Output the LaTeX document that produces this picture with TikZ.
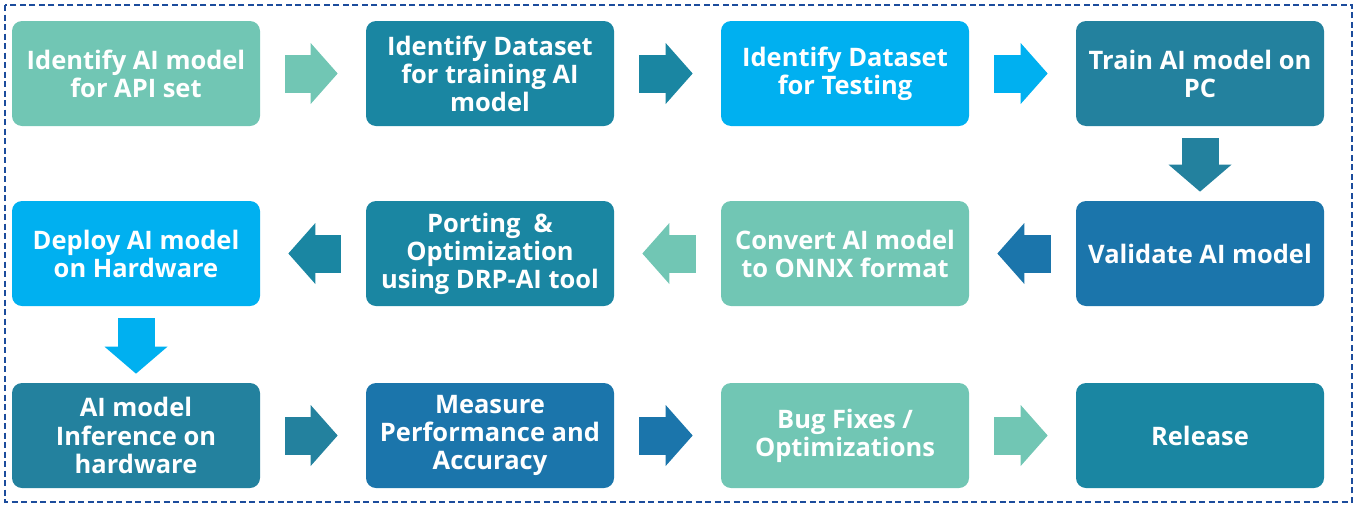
\documentclass[tikz,border=0pt]{standalone}
\usepackage{fontspec}
\setmainfont{Open Sans}
\usetikzlibrary{arrows.meta}
\definecolor{mint}{HTML}{71C6B4}
\definecolor{tealA}{HTML}{1A86A2}
\definecolor{sky}{HTML}{00B0F0}
\definecolor{tealB}{HTML}{23819E}
\definecolor{ocean}{HTML}{1B75AB}
\definecolor{frameblue}{HTML}{1C4C9C}

\begin{document}
\begin{tikzpicture}[
  stage/.style={rounded corners=0.2cm, minimum width=4.96cm, minimum height=2.1cm,
    inner sep=0pt, align=center, text=white, font=\fontsize{14.5}{16}\selectfont\bfseries},
  flow/.style={line width=0.76cm, shorten <=0.5cm, shorten >=0.56cm,
    -{Triangle[length=0.54cm, width=1.22cm, line width=0pt]}},
  drop/.style={line width=0.74cm, shorten <=0.24cm, shorten >=0.18cm,
    -{Triangle[length=0.54cm, width=1.26cm, line width=0pt]}}
]
  \useasboundingbox (0,0) rectangle (27.2,-10.1);
  \draw[frameblue, line width=1.4pt, dash pattern=on 0.12cm off 0.07cm] (0.1,-0.1) rectangle (27.04,-10.04);

  % Row 1
  \node[stage, fill=mint] (idmodel) at (2.72, -1.47) {Identify AI model\\for API set};
  \node[stage, fill=tealA] (idtrain) at (9.8, -1.47) {Identify Dataset\\for training AI\\model};
  \node[stage, fill=sky] (idtest) at (16.9, -1.47) {Identify Dataset\\for Testing};
  \node[stage, fill=tealB] (train) at (24.0, -1.47) {Train AI model on\\PC};

  % Row 2
  \node[stage, fill=sky] (deploy) at (2.72, -5.07) {Deploy AI model\\on Hardware};
  \node[stage, fill=tealA] (porting) at (9.8, -5.07) {Porting\ \ \&\\Optimization\\using DRP-AI tool};
  \node[stage, fill=mint] (convert) at (16.9, -5.07) {Convert AI model\\to ONNX format};
  \node[stage, fill=ocean] (validate) at (24.0, -5.07) {Validate AI model};

  % Row 3
  \node[stage, fill=tealB] (infer) at (2.72, -8.71) {AI model\\Inference on\\hardware};
  \node[stage, fill=ocean] (measure) at (9.8, -8.71) {Measure\\Performance and\\Accuracy};
  \node[stage, fill=mint] (bugfix) at (16.9, -8.71) {Bug Fixes /\\Optimizations};
  \node[stage, fill=tealA] (release) at (24.0, -8.71) {Release};

  \draw[flow, mint] (idmodel) -- (idtrain);
  \draw[flow, tealA] (idtrain) -- (idtest);
  \draw[flow, sky] (idtest) -- (train);
  \draw[drop, tealB] (train) -- (validate);
  \draw[flow, ocean] (validate) -- (convert);
  \draw[flow, mint] (convert) -- (porting);
  \draw[flow, tealA] (porting) -- (deploy);
  \draw[drop, sky] (deploy) -- (infer);
  \draw[flow, tealB] (infer) -- (measure);
  \draw[flow, ocean] (measure) -- (bugfix);
  \draw[flow, mint] (bugfix) -- (release);

\end{tikzpicture}
\end{document}
